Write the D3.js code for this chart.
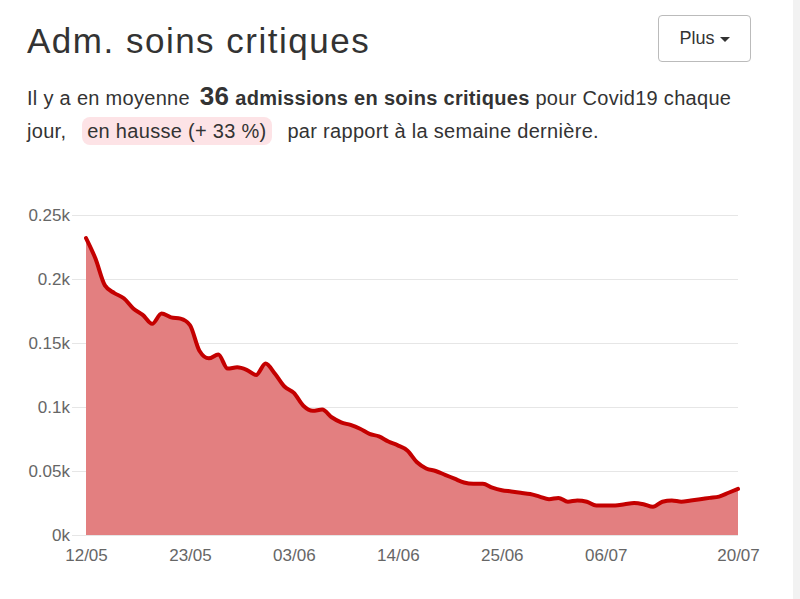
<!DOCTYPE html>
<html><head><meta charset="utf-8">
<script src="https://cdn.jsdelivr.net/npm/d3@7"></script>
<style>
body{margin:0;background:#fff;font-family:"Liberation Sans",Arial,Helvetica,sans-serif;color:#333;width:800px;height:599px;overflow:hidden;position:relative}
#title{position:absolute;left:27px;top:21px;font-size:35px;letter-spacing:1.5px;color:#333;line-height:40px}
#btn{position:absolute;left:658px;top:15px;width:93px;height:47px;border:1px solid #bbb;border-radius:4px;box-sizing:border-box;font-size:18px;color:#333;text-align:center;line-height:45px}
#btn .caret{display:inline-block;width:0;height:0;border-left:5px solid transparent;border-right:5px solid transparent;border-top:5px solid #333;vertical-align:middle;margin-left:5px}
#sub{position:absolute;left:27px;top:80px;width:770px;font-size:20px;line-height:33px;color:#333;letter-spacing:0.3px;white-space:nowrap}
#sub b.big{font-size:26px;margin-left:4px}
#sub .pill{background:#fde3e6;border-radius:8px;padding:3px 5px;margin:0 10px 0 10px}
#strip{position:absolute;left:793px;top:0;width:7px;height:599px;background:#f2f2f2}
svg{position:absolute;left:0;top:0}
</style></head><body>
<div id="title">Adm. soins critiques</div>
<div id="btn">Plus<span class="caret"></span></div>
<div id="sub">Il y a en moyenne <b class="big">36</b> <b>admissions en soins critiques</b> pour Covid19 chaque<br>jour, <span class="pill">en hausse (+ 33 %)</span> par rapport à la semaine dernière.</div>
<div id="strip"></div>
<svg id="chart" width="800" height="599"></svg>
<script>
const startDate = "2020-05-12";
const values = [232,216,195,189,185,177,172,165,173,170,169,164,144,138,141,130,131,129,125,134,126,116,111,101,97,98,92,88,86,83,79,77,73,70,66,57,52,50,47,44,41,40,40,37,35,34,33,32,30,28,29,26,27,26,23,23,23,24,25,24,22,26,27,26,27,28,29,30,33,36];
const yTicks = [0,50,100,150,200,250];
const xTickLabels = ["12/05","23/05","03/06","14/06","25/06","06/07","20/07"];

const parse = d3.timeParse("%Y-%m-%d");
const t0 = parse(startDate);
const data = values.map((v,i)=>({date:d3.timeDay.offset(t0,i), v}));
const fmtDM = d3.timeFormat("%d/%m");
const pDM = d3.timeParse("%d/%m/%Y");
const xTickDates = xTickLabels.map(s=>pDM(s+"/2020"));

const svg = d3.select("#chart");
const x = d3.scaleTime().domain([data[0].date, data[data.length-1].date]).range([86,738]);
const y = d3.scaleLinear().domain([0,250]).range([535,215]);

svg.append("defs").append("clipPath").attr("id","lc").append("rect").attr("x",27).attr("y",0).attr("width",800).attr("height",599);

// y axis gridlines + labels
const yo = svg.append("g").attr("clip-path","url(#lc)");
const ya = yo.append("g").attr("transform","translate(72,0)")
  .call(d3.axisRight(y).tickValues(yTicks).tickSize(666).tickFormat(d=>(d/1000)+"k"));
ya.select(".domain").remove();
ya.selectAll(".tick line").attr("stroke","#e6e6e6").attr("stroke-width",1);
ya.selectAll(".tick text").attr("x",-2).attr("text-anchor","end").attr("fill","#666")
  .style("font-size","17px").style("font-family","'Liberation Sans',Arial,sans-serif");

// area + line
const area = d3.area().x(d=>x(d.date)).y0(y(0)).y1(d=>y(d.v)).curve(d3.curveMonotoneX);
const line = d3.line().x(d=>x(d.date)).y(d=>y(d.v)).curve(d3.curveMonotoneX);
svg.append("path").datum(data).attr("d",area).attr("fill","#e37f80");
svg.append("path").datum(data).attr("d",line).attr("fill","none").attr("stroke","#c40000").attr("stroke-width",4).attr("stroke-linejoin","round").attr("stroke-linecap","round");

// x axis
const xa = svg.append("g").attr("transform","translate(0,535)")
  .call(d3.axisBottom(x).tickValues(xTickDates).tickSize(0).tickPadding(12).tickFormat(fmtDM));
xa.select(".domain").remove();
xa.selectAll(".tick text").attr("fill","#666").attr("dy","0.85em")
  .style("font-size","17px").style("font-family","'Liberation Sans',Arial,sans-serif");
</script>
</body></html>
